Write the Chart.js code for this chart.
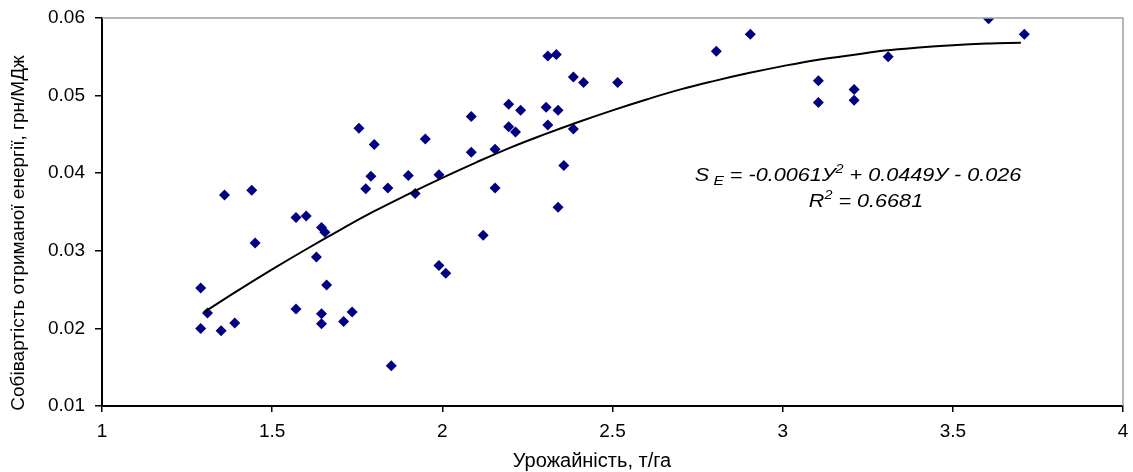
<!DOCTYPE html>
<html>
<head>
<meta charset="utf-8">
<script src="https://cdn.jsdelivr.net/npm/chart.js@4.4.1/dist/chart.umd.min.js"></script>
<style>
  html, body { margin: 0; padding: 0; background: #fff; }
  #wrap { width: 1133px; height: 472px; }
</style>
</head>
<body>
<div id="wrap"><canvas id="chart" width="1133" height="472"></canvas></div>
<script>
// observed points (yield, t/ha ; cost of energy, UAH/MJ)
const yieldX = [1.29, 1.29, 1.31, 1.35, 1.36, 1.39, 1.44, 1.45, 1.57, 1.57, 1.60, 1.63, 1.645, 1.655, 1.645, 1.645,
    1.66, 1.71, 1.735, 1.755, 1.775, 1.79, 1.80, 1.84, 1.85, 1.90, 1.92, 1.95, 1.99, 1.99, 2.01,
    2.085, 2.085, 2.12, 2.155, 2.155, 2.195, 2.195, 2.215, 2.23, 2.305, 2.31, 2.31, 2.335, 2.34, 2.34,
    2.357, 2.385, 2.385, 2.415, 2.515, 2.805, 2.905, 3.105, 3.105, 3.21, 3.21, 3.31, 3.605, 3.71];
const costY = [0.0252, 0.0200, 0.0220, 0.0197, 0.0372, 0.0207, 0.0378, 0.0310, 0.0343, 0.0225, 0.0345, 0.0292, 0.0330, 0.0324, 0.0219, 0.0206,
    0.0256, 0.0209, 0.0221, 0.0458, 0.0380, 0.0396, 0.0437, 0.0381, 0.0152, 0.0397, 0.0374, 0.0444, 0.0398, 0.0281, 0.0271,
    0.0473, 0.0427, 0.0320, 0.0431, 0.0381, 0.0489, 0.0460, 0.0453, 0.0481, 0.0485, 0.0462, 0.0551, 0.0553, 0.0481, 0.0356,
    0.0410, 0.0524, 0.0457, 0.0517, 0.0517, 0.0557, 0.0579, 0.0519, 0.0491, 0.0508, 0.0494, 0.0550, 0.0599, 0.0579];

// trend line
const trendX = [1.3, 1.4, 1.5, 1.6, 1.7, 1.8, 1.9, 2.0, 2.1, 2.2, 2.3, 2.4, 2.5, 2.6, 2.7, 2.8, 2.9, 3.0, 3.1, 3.2, 3.3, 3.4, 3.5, 3.6, 3.7];
const trendY = [0.0221, 0.0249, 0.0276, 0.0302, 0.0327, 0.0351, 0.0373, 0.0394, 0.0414, 0.0433, 0.0450, 0.0466, 0.0481, 0.0495,
    0.0508, 0.0519, 0.0529, 0.0538, 0.0546, 0.0552, 0.0558, 0.0562, 0.0565, 0.0567, 0.0568];

const xTickLabels = ['1', '1.5', '2', '2.5', '3', '3.5', '4'];
const yTickLabels = ['0.01', '0.02', '0.03', '0.04', '0.05', '0.06'];
const xTitle = 'Урожайність, т/га';
const yTitle = 'Собівартість отриманої енергії, грн/МДж';

const FONT = '"Liberation Sans", Arial, sans-serif';

// plot frame, axis titles and regression equation
const extras = {
    id: 'extras',
    afterDraw(chart) {
        const c = chart.ctx;
        const a = chart.chartArea;
        c.save();
        c.strokeStyle = '#a0a0a0';
        c.lineWidth = 1.5;
        c.beginPath();
        c.moveTo(a.left, a.top);
        c.lineTo(a.right, a.top);
        c.lineTo(a.right, a.bottom);
        c.stroke();

        c.fillStyle = '#000';
        c.textAlign = 'center';
        c.textBaseline = 'middle';
        c.font = '20px ' + FONT;
        c.fillText(xTitle, 592, 461);

        c.save();
        c.translate(19, 233);
        c.rotate(-Math.PI / 2);
        c.font = '19px ' + FONT;
        c.fillText(yTitle, 0, 0);
        c.restore();

        c.textAlign = 'left';
        c.textBaseline = 'alphabetic';
        const sx = 1.2;
        const drawParts = (parts, cx, y) => {
            let w = 0;
            parts.forEach(p => {
                c.font = 'italic ' + p.size + 'px ' + FONT;
                w += c.measureText(p.t).width;
            });
            c.save();
            c.translate(cx - w * sx / 2, y);
            c.scale(sx, 1);
            let x = 0;
            parts.forEach(p => {
                c.font = 'italic ' + p.size + 'px ' + FONT;
                c.fillText(p.t, x, p.dy || 0);
                x += c.measureText(p.t).width;
            });
            c.restore();
        };
        drawParts([
            { t: 'S', size: 18 }, { t: ' E', size: 13, dy: 4 },
            { t: ' = -0.0061У', size: 18 }, { t: '2', size: 12, dy: -8 },
            { t: ' + 0.0449У - 0.026', size: 18 }
        ], 858, 181);
        drawParts([
            { t: 'R', size: 18 }, { t: '2', size: 12, dy: -8 }, { t: ' = 0.6681', size: 18 }
        ], 866, 207);
        c.restore();
    }
};

new Chart(document.getElementById('chart'), {
    type: 'scatter',
    data: {
        datasets: [
            {
                label: 'trend',
                type: 'line',
                data: trendX.map((x, i) => ({ x: x, y: trendY[i] })),
                borderColor: '#000',
                borderWidth: 2,
                pointRadius: 0,
                tension: 0.4,
                fill: false,
                order: 1
            },
            {
                label: 'data',
                data: yieldX.map((x, i) => ({ x: x, y: costY[i] })),
                pointStyle: 'rectRot',
                pointRadius: 5.5,
                backgroundColor: '#000080',
                borderColor: '#000080',
                borderWidth: 0,
                order: 2
            }
        ]
    },
    options: {
        responsive: false,
        animation: false,
        layout: { padding: { top: 18, right: 10, left: 0, bottom: 0 } },
        plugins: {
            legend: { display: false },
            tooltip: { enabled: false }
        },
        scales: {
            x: {
                type: 'linear',
                min: 1,
                max: 4,
                afterFit: s => { s.height = 66; s.paddingLeft = 0; s.paddingRight = 0; },
                border: { color: '#000', width: 2 },
                grid: { drawOnChartArea: false, color: '#000', lineWidth: 1.5, tickLength: 6 },
                ticks: {
                    stepSize: 0.5,
                    padding: 8,
                    color: '#000',
                    font: { family: FONT, size: 19 },
                    callback: (v, i) => xTickLabels[i]
                }
            },
            y: {
                min: 0.01,
                max: 0.06,
                afterFit: s => { s.width = 102; s.paddingTop = 0; s.paddingBottom = 0; },
                border: { color: '#000', width: 2 },
                grid: { drawOnChartArea: false, color: '#000', lineWidth: 1.5, tickLength: 7 },
                ticks: {
                    stepSize: 0.01,
                    padding: 10,
                    color: '#000',
                    font: { family: FONT, size: 19 },
                    callback: (v, i) => yTickLabels[i]
                }
            }
        }
    },
    plugins: [extras]
});
</script>
</body>
</html>
